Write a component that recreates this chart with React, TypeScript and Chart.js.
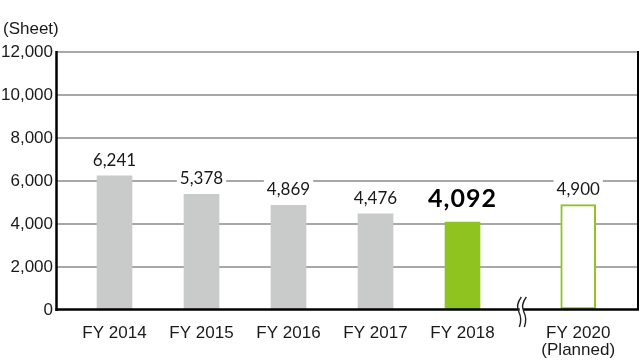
import React, { useEffect, useRef } from "react";
import { Chart, registerables } from "chart.js";

Chart.register(...registerables);

const categories: (string | string[])[] = ["FY 2014", "FY 2015", "FY 2016", "FY 2017", "FY 2018", ["FY 2020", "(Planned)"]];
const xSlots = [0, 1, 2, 3, 4, 5.33];
const values = [6241, 5378, 4869, 4476, 4092, 4900];
const valueLabels = ["6,241", "5,378", "4,869", "4,476", "4,092", "4,900"];
const highlightIndex = 4;
const plannedIndex = 5;
const yTicks = [0, 2000, 4000, 6000, 8000, 10000, 12000];
const unitLabel = "(Sheet)";

const GRAY = "#c9caca";
const GREEN = "#8fc31f";
const TEXT = "#1a1a1a";

export default function App() {
  const ref = useRef<HTMLCanvasElement | null>(null);

  useEffect(() => {
    const canvas = ref.current;
    if (!canvas) return;

    const overlay = {
      id: "overlay",
      afterDatasetsDraw(chart: any) {
        const ctx = chart.ctx;
        const meta = chart.getDatasetMeta(0);
        ctx.save();
        meta.data.forEach((bar: any, i: number) => {
          const bold = i === highlightIndex;
          ctx.font = bold ? "bold 25px Lato, 'Liberation Sans', sans-serif" : "17px Lato, 'Liberation Sans', sans-serif";
          (ctx as any).letterSpacing = bold ? "1px" : "0px";
          const text = valueLabels[i];
          const w = ctx.measureText(text).width;
          const base = bar.y - (bold ? 15 : 10);
          const h = bold ? 18 : 13;
          ctx.fillStyle = "#ffffff";
          ctx.fillRect(bar.x - w / 2 - 3, base - h - 4, w + 6, h + 7);
          ctx.fillStyle = bold ? "#000000" : TEXT;
          ctx.textAlign = "center";
          ctx.textBaseline = "alphabetic";
          ctx.fillText(text, bar.x, base);
        });
        (ctx as any).letterSpacing = "0px";
        ctx.restore();
      },
      afterDraw(chart: any) {
        const ctx = chart.ctx;
        const a = chart.chartArea;
        const xs = chart.scales.x;
        ctx.save();
        ctx.strokeStyle = "#000";
        // right border
        ctx.lineWidth = 2;
        ctx.beginPath();
        ctx.moveTo(a.right - 0.5, a.top - 1);
        ctx.lineTo(a.right - 0.5, a.bottom);
        ctx.stroke();
        // left axis
        ctx.lineWidth = 2.5;
        ctx.beginPath();
        ctx.moveTo(a.left - 0.5, a.top - 1);
        ctx.lineTo(a.left - 0.5, a.bottom + 1);
        ctx.stroke();
        // bottom axis
        ctx.beginPath();
        ctx.moveTo(a.left - 1.5, a.bottom - 0.5);
        ctx.lineTo(a.right + 0.5, a.bottom - 0.5);
        ctx.stroke();
        // break marker
        const bx = xs.getPixelForValue((xSlots[highlightIndex] + xSlots[plannedIndex]) / 2) + 1;
        const yc = a.bottom + 2;
        const gap = 5;
        const wave = (x: number) => {
          ctx.moveTo(x + 2.5, yc - 15);
          ctx.quadraticCurveTo(x - 3.5, yc - 7, x, yc);
          ctx.quadraticCurveTo(x + 3.5, yc + 7, x + 0.5, yc + 15);
        };
        ctx.fillStyle = "#fff";
        ctx.fillRect(bx - gap / 2 + 0.8, a.bottom - 3, gap - 1.6, 5);
        ctx.lineWidth = 1.4;
        ctx.strokeStyle = "#222";
        ctx.beginPath();
        wave(bx - gap / 2);
        ctx.stroke();
        ctx.beginPath();
        wave(bx + gap / 2);
        ctx.stroke();
        // unit label
        ctx.fillStyle = TEXT;
        ctx.font = "17px 'Liberation Sans', Arial, sans-serif";
        ctx.textAlign = "left";
        ctx.textBaseline = "alphabetic";
        ctx.fillText(unitLabel, 3, 34);
        ctx.restore();
      },
    };

    const chart = new Chart(canvas, {
      type: "bar",
      data: {
        datasets: [
          {
            data: xSlots.map((x, i) => ({ x, y: values[i] })),
            backgroundColor: values.map((_, i) => (i === plannedIndex ? "#ffffff" : i === highlightIndex ? GREEN : GRAY)),
            borderColor: values.map((_, i) => (i === plannedIndex ? GREEN : "transparent")),
            borderWidth: values.map((_, i) => (i === plannedIndex ? 2 : 0)),
            borderSkipped: false,
            barThickness: 35,
          } as any,
        ],
      },
      options: {
        animation: false,
        responsive: false,
        devicePixelRatio: 1,
        layout: { padding: { top: 52, right: 1.5, left: 0, bottom: 0 } },
        plugins: { legend: { display: false }, tooltip: { enabled: false } },
        scales: {
          x: {
            type: "linear",
            offset: false,
            min: -0.661,
            max: 6.023,
            grid: { display: false, offset: false },
            border: { display: false },
            afterBuildTicks: (scale: any) => {
              scale.ticks = xSlots.map((v) => ({ value: v }));
            },
            afterFit: (scale: any) => {
              scale.height = 54;
            },
            ticks: {
              autoSkip: false,
              maxRotation: 0,
              padding: 6,
              color: TEXT,
              font: { family: "'Liberation Sans', Arial, sans-serif", size: 17, lineHeight: 1.05 },
              callback: (value: any) => {
                const idx = xSlots.indexOf(Number(value));
                return idx >= 0 ? (categories[idx] as any) : "";
              },
            },
          },
          y: {
            min: 0,
            max: 12000,
            afterBuildTicks: (scale: any) => {
              scale.ticks = yTicks.map((v) => ({ value: v }));
            },
            afterFit: (scale: any) => {
              scale.width = 57;
            },
            border: { display: false },
            grid: {
              drawTicks: false,
              lineWidth: 2,
              color: (c: any) => (c.tick && c.tick.value === 0 ? "transparent" : "#a8a8a8"),
            },
            ticks: {
              padding: 4,
              color: TEXT,
              font: { family: "'Liberation Sans', Arial, sans-serif", size: 17 },
              callback: (value: any) => Number(value).toLocaleString("en-US"),
            },
          },
        },
      } as any,
      plugins: [overlay],
    });

    return () => chart.destroy();
  }, []);

  return (
    <div style={{ position: "absolute", left: 0, top: 0, width: 640, height: 364 }}>
      <canvas ref={ref} width={640} height={364} style={{ display: "block" }} />
    </div>
  );
}
